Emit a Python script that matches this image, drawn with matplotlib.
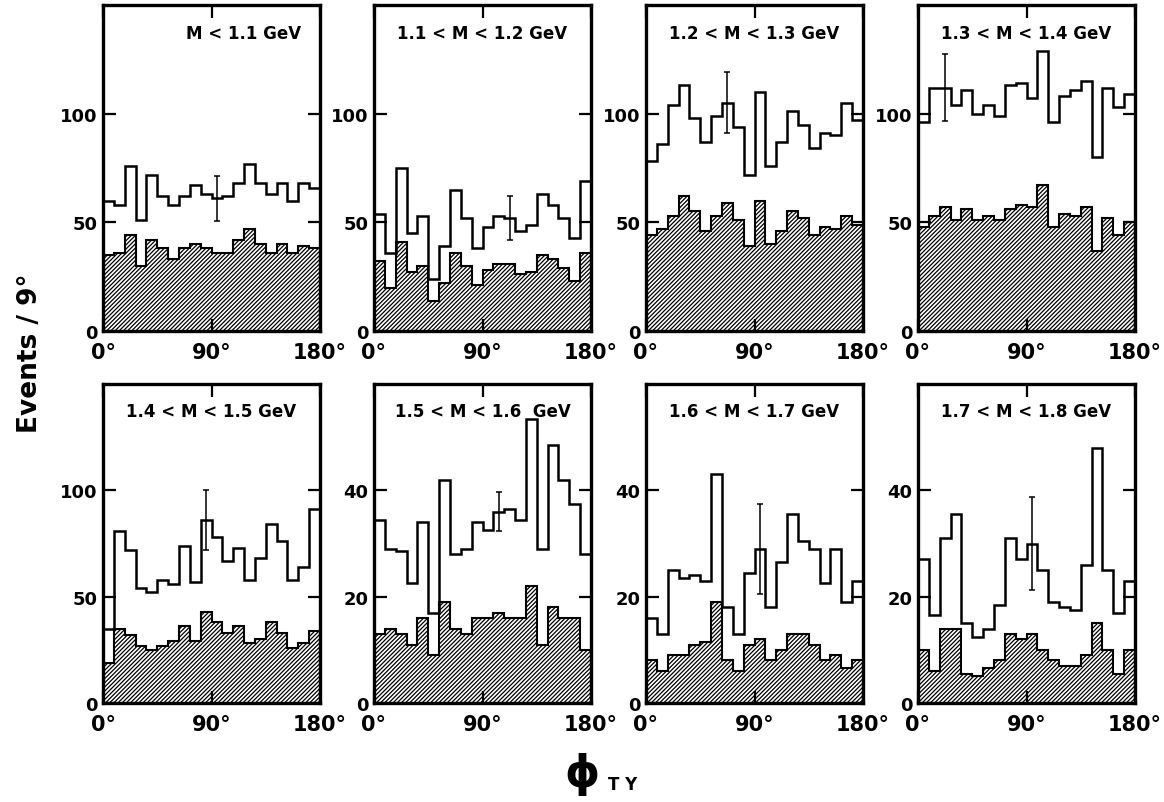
import numpy as np
import matplotlib
matplotlib.use("Agg")
from matplotlib import pyplot as plt

plt.rcParams['font.family'] = ['DejaVu Sans']
plt.rcParams['font.weight'] = 'bold'
plt.rcParams['hatch.color'] = 'black'
plt.rcParams['hatch.linewidth'] = 0.9

# 20 bins of 9 degrees in phi_TY
edges = np.arange(0, 181, 9)

titles = ["M < 1.1 GeV", "1.1 < M < 1.2 GeV", "1.2 < M < 1.3 GeV", "1.3 < M < 1.4 GeV",
          "1.4 < M < 1.5 GeV", "1.5 < M < 1.6  GeV", "1.6 < M < 1.7 GeV", "1.7 < M < 1.8 GeV"]

# all events (open histogram)
open_1 = [60, 58, 76, 51, 72, 62, 58, 62, 67, 63, 61, 62, 68, 77, 68, 63, 68, 60, 68, 66]
open_2 = [54, 36, 75, 45, 53, 24, 39, 65, 52, 38, 48, 53, 52, 46, 49, 63, 58, 52, 43, 69]
open_3 = [78, 86, 104, 113, 98, 87, 99, 105, 94, 72, 110, 76, 87, 101, 95, 84, 91, 90, 105, 97]
open_4 = [96, 112, 112, 104, 111, 100, 104, 99, 113, 114, 107, 129, 96, 108, 111, 115, 80, 112, 103, 109]
open_5 = [35, 81, 72, 54, 52, 58, 56, 74, 57, 86, 78, 67, 73, 58, 68, 84, 76, 58, 64, 91]
open_6 = [34.5, 29, 28.5, 22.5, 34, 17, 42, 28, 29, 34, 32.5, 36, 36.5, 34.5, 53.5, 29, 48.5, 42, 37.5, 28]
open_7 = [16, 13, 25, 23.5, 24, 23, 43, 18, 13, 24.5, 29, 18, 26.5, 35.5, 30.5, 29, 22.5, 29, 19, 23]
open_8 = [27, 16.5, 31, 35.5, 15, 12.5, 14, 18.5, 31, 27, 30, 25, 19, 18, 17.5, 26, 48, 25, 17, 23]

# hatched histogram
shaded_1 = [35, 36, 44, 30, 42, 38, 33, 38, 40, 38, 36, 36, 42, 47, 40, 36, 40, 36, 39, 38]
shaded_2 = [32, 20, 41, 27, 30, 14, 22, 36, 30, 21, 28, 31, 31, 26, 27, 35, 33, 29, 23, 36]
shaded_3 = [44, 47, 53, 62, 55, 46, 53, 59, 51, 39, 60, 40, 46, 55, 52, 44, 48, 47, 53, 49]
shaded_4 = [48, 53, 57, 51, 56, 51, 53, 51, 56, 58, 57, 67, 48, 54, 53, 57, 37, 52, 44, 50]
shaded_5 = [19, 35, 32, 27, 25, 27, 29, 36, 29, 43, 38, 33, 36, 28, 30, 38, 33, 26, 28, 34]
shaded_6 = [13, 14, 13, 11, 16, 9, 19, 14, 13, 16, 16, 17, 16, 16, 22, 11, 18, 16, 16, 10]
shaded_7 = [8, 6, 9, 9, 11, 11.5, 19, 8, 6, 11, 12, 8, 10, 13, 13, 11, 8, 9, 6.5, 8]
shaded_8 = [10, 6, 14, 14, 5.5, 5, 6.5, 8, 13, 12, 13, 10, 8, 7, 7, 9, 15, 10, 5.5, 10]

open_all = [open_1, open_2, open_3, open_4, open_5, open_6, open_7, open_8]
shaded_all = [shaded_1, shaded_2, shaded_3, shaded_4, shaded_5, shaded_6, shaded_7, shaded_8]

# one error bar per panel: bin index and half length
err_bin = [10, 12, 7, 2, 9, 11, 10, 10]
err_len = [10.3, 10.3, 14, 15.5, 14, 3.7, 8.5, 8.7]

ymax = [150, 150, 150, 150, 150, 60, 60, 60]
yticks = [[0, 50, 100]] * 5 + [[0, 20, 40]] * 3
title_x = [0.65, 0.5, 0.5, 0.5, 0.5, 0.5, 0.5, 0.5]

fig = plt.figure(figsize=(11.64, 8.03), dpi=100)

W, H = 1164., 803.
lefts = [103, 374, 646, 918]
w = 217


def makeAxes(i):
    # Position der Panels in Pixeln
    col = i % 4
    if i < 4:
        top, bot = 6, 332
    else:
        top, bot = 385, 704
    return fig.add_axes([lefts[col] / W, 1 - bot / H, w / W, (bot - top) / H])


def drawPanel(ax, i):
    total = open_all[i]
    shaded = shaded_all[i]
    ax.stairs(shaded, edges, fill=True, facecolor='white', edgecolor='black',
              hatch='////////', linewidth=1.5)
    ax.stairs(total, edges, baseline=None, color='black', linewidth=1.8)

    b = err_bin[i]
    c = (edges[b] + edges[b + 1]) / 2.
    ax.errorbar(c, total[b], yerr=err_len[i], fmt='none', ecolor='black',
                elinewidth=1.1, capsize=2.5, capthick=1.1)

    ax.set_xlim(0, 180)
    ax.set_ylim(0, ymax[i])
    ax.set_yticks(yticks[i])
    ax.set_yticklabels([str(t) for t in yticks[i]], fontsize=13, fontweight='bold')
    ax.set_xticks([0, 90, 180])
    ax.set_xticklabels(["0°", "90°", "180°"], fontsize=15, fontweight='bold')
    ax.tick_params(axis='both', direction='in', length=9, width=1.6,
                   left=True, right=True, top=True, bottom=True)
    ax.tick_params(axis='y', pad=4)
    ax.tick_params(axis='x', pad=8)
    for s in ax.spines.values():
        s.set_linewidth(2.4)
    ax.text(title_x[i], 0.915, titles[i], transform=ax.transAxes, ha='center',
            va='center', fontsize=12, fontweight='bold')


for i in range(8):
    ax = makeAxes(i)
    drawPanel(ax, i)

fig.text(0.026, 0.56, "Events / 9°", rotation=90, ha='center', va='center',
         fontsize=19, fontweight='bold')
fig.text(0.5, 0.035, "ϕ", ha='center', va='center', fontsize=32, fontweight='bold')
fig.text(0.535, 0.022, "T Y", ha='center', va='center', fontsize=12, fontweight='bold')

fig.savefig("out.png", dpi=100)
